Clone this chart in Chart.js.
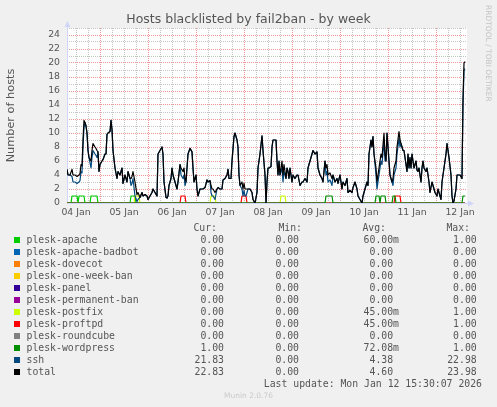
<!DOCTYPE html>
<html>
<head>
<meta charset="utf-8">
<script src="https://cdn.jsdelivr.net/npm/chart.js@4.4.1/dist/chart.umd.min.js"></script>
<style>
html, body { margin: 0; padding: 0; width: 497px; height: 407px; background: #f0f0f0; overflow: hidden; }
body { position: relative; font-family: 'DejaVu Sans', sans-serif; }
#graph { position: absolute; left: 0; top: 0; }
.lg { position: absolute; font: 9.8px 'DejaVu Sans Mono', monospace; line-height: 12px; color: #555; white-space: pre; }
.sw { position: absolute; width: 6px; height: 6px; }
#rrd { position: absolute; left: 484px; top: 5px; writing-mode: vertical-rl; font: 7.5px 'DejaVu Sans', sans-serif; line-height: 9px; color: #c4c4c4; white-space: pre; }
#munin { position: absolute; left: 0; width: 497px; top: 391px; text-align: center; font: 7.5px 'DejaVu Sans', sans-serif; line-height: 10px; color: #cacaca; }
</style>
</head>
<body>
<canvas id="graph" width="497" height="225"></canvas>
<div id="rrd">RRDTOOL / TOBI OETIKER</div>
<div id="legend"></div>
<div id="munin">Munin 2.0.76</div>
<script>
// time axis in hours since 04 Jan 00:00
const startHour = 7.5;
const endHour = 207.5;
const dayLabels = ['04 Jan', '05 Jan', '06 Jan', '07 Jan', '08 Jan', '09 Jan', '10 Jan', '11 Jan', '12 Jan'];

const sampleHours = [
    7.5, 8, 9, 10, 10.5, 11.5, 12.5, 13.5, 14, 14.5, 15, 15.5, 16, 16.5, 17, 17.5, 18, 18.5, 19.5, 20, 20.5, 21.5, 22, 22.5, 23, 23.5,
    24, 25, 25.5, 26.5, 27, 27.5, 28, 29, 29.5, 30, 30.5, 31.5, 32.5, 33, 34, 35, 35.5, 36.5, 37.5, 38, 39, 39.5, 40, 40.5, 41.5, 42.5, 43, 44, 45, 45.5, 46.5, 47.5,
    48, 49, 50, 50.5, 51.5, 52.5, 53, 54, 55, 55.5, 56, 57, 57.5, 58, 58.5, 59.5, 60, 60.5, 61.5, 62.5, 63, 64, 64.5, 65.5, 66, 66.5, 67, 68, 69, 70, 70.5, 71,
    72, 72.5, 73, 74, 75, 75.5, 76.5, 77.5, 78, 79, 79.5, 80, 80.5, 81.5, 82.5, 83, 84, 85, 85.5, 86.5, 87.5, 88, 88.5, 89.5, 90, 91, 91.5, 92.5, 93, 93.5, 94, 95, 95.5,
    96, 96.5, 97, 98, 99, 100, 100.5, 101.5, 102.5, 103, 104, 105, 105.5, 106.5, 107, 107.5, 108, 108.5, 109.5, 110, 110.5, 112, 112.5, 113, 113.5, 114, 115, 115.5, 116, 117, 117.5, 118, 118.5, 119,
    120, 120.5, 121.5, 122.5, 123, 124, 125, 125.5, 126.5, 127.5, 128, 129, 130, 130.5, 131.5, 132.5, 133, 134, 135, 135.5, 136.5, 137, 137.5, 138, 139, 140, 140.5, 141.5, 142.5, 143,
    144, 145, 145.5, 146.5, 147.5, 148, 149, 150, 150.5, 151.5, 152.5, 153, 154, 155, 155.5, 156.5, 157.5, 158, 158.5, 159.5, 160, 160.5, 161, 162, 162.5, 163, 163.5, 164.5, 165, 166, 166.5, 167, 167.5,
    168, 168.5, 169, 170, 170.5, 171, 172, 172.5, 173.5, 174, 174.5, 175, 175.5, 176, 177, 177.5, 178, 178.5, 179, 179.5, 180, 180.5, 181, 182, 182.5, 183, 183.5, 184.5, 185, 185.5, 186, 187, 187.5, 188.5, 189, 190, 190.5, 191.5,
    192.5, 193, 194, 194.5, 195, 196, 197, 197.5, 198.5, 199.5, 200, 200.5, 201, 202, 202.5, 203.5, 204, 205, 205.5, 206, 206.5
];

const totalHosts = [
    4.8, 4, 4, 4.8, 4, 4, 3.8, 4, 4.2, 5.5, 5.3, 9, 11.8, 11.5, 11, 10, 7.5, 6.5, 6, 7.5, 8.5, 8, 7.8, 7.5, 7.3, 4.5,
    5.5, 6, 6.2, 7, 7, 9.8, 10, 10.2, 11.8, 10.5, 7.5, 5, 3.5, 4.5, 4, 5, 2.8, 4, 3, 4.5, 3.5, 3.5, 3.8, 4.5, 3, 1.2, 1.5, 0.8, 1.5, 1, 1.2, 1,
    0.5, 1, 1.5, 2, 1.5, 1, 7, 7.5, 8, 7, 3, 0.8, 0.7, 1, 2.5, 3.5, 5, 4, 3, 2, 3, 5.5, 5, 4.5, 5, 3.5, 3, 7, 7.8, 7.3, 5, 3,
    4, 2, 1, 2, 2, 2, 2.2, 3.3, 3, 3.2, 2.5, 2, 2, 1.5, 2, 2.2, 2, 2, 3.3, 3.5, 4, 4.8, 3.5, 3.5, 6, 9.5, 10, 9, 8, 4, 2.5, 3, 2,
    2.8, 2, 2, 2, 2, 1.5, 0.5, 0, 1.5, 5, 7, 9.6, 7.5, 4, 0, 3, 5, 5, 5.2, 8, 9, 9, 6, 4, 6, 4, 6, 4, 5.5, 3.5, 5, 4.5, 3.5, 5,
    3, 4, 3.5, 4, 4, 2.5, 3, 3, 3.5, 3, 5, 6, 7, 7.5, 7, 7.3, 5, 4, 3.5, 3, 6, 5, 5.5, 4, 4.3, 3.5, 4, 3, 3.5, 2.8,
    4, 2, 3, 2.5, 3.5, 1.5, 1.8, 1.5, 2.2, 3, 2, 1, 0.5, 0, 1, 2, 3, 2.5, 7, 9, 8, 9.5, 7, 5, 3, 4, 5, 7, 6.5, 10, 7, 6, 10,
    8, 6, 4, 3, 3.5, 5, 6, 8, 10.2, 9, 8.5, 8, 7.5, 7.5, 5.5, 4.5, 7, 5, 6.5, 5, 7, 6, 5, 6, 4.7, 4.5, 5, 3, 5, 6, 5, 4.5, 5, 3, 1.5, 3, 2.5, 1.5,
    1, 2, 1, 0.5, 3, 5, 7, 8.5, 6.5, 4, 1, 0, 0.3, 2, 4, 4, 4, 3.5, 15, 20, 20.2
];

const sshHosts = [
    4.8, 4, 4, 3.8, 3, 3, 2.8, 3, 3.2, 4.5, 4.3, 8, 10.8, 11.5, 11, 10, 7.5, 6.5, 5, 6.5, 7.5, 7, 6.8, 6.5, 7.3, 4.5,
    5.5, 6, 6.2, 7, 7, 9.8, 10, 10.2, 11.8, 10.5, 7.5, 5, 3.5, 4.5, 4, 5, 2.8, 4, 3, 4.5, 3.5, 2.5, 2.8, 3.5, 1, 0.2, 0.5, 0.8, 1.5, 1, 1.2, 1,
    0.5, 1, 1.5, 2, 1.5, 1, 7, 7.5, 8, 7, 3, 0.8, 0.7, 1, 2.5, 3.5, 5, 4, 3, 2, 3, 5.5, 4, 3.5, 4, 2.5, 3, 7, 7.8, 7.3, 5, 3,
    4, 2, 1, 2, 2, 2, 2.2, 3.3, 3, 3.2, 1.5, 1, 1, 0.5, 2, 2.2, 2, 2, 3.3, 3.5, 4, 4.8, 3.5, 3.5, 6, 9.5, 10, 9, 8, 4, 2.5, 2, 1,
    1.8, 1, 1, 2, 2, 1.5, 0.5, 0, 1.5, 5, 7, 9.6, 7.5, 4, 0, 3, 5, 5, 5.2, 8, 9, 9, 6, 4, 6, 4, 5, 3, 4.5, 3.5, 5, 4.5, 3.5, 5,
    3, 4, 3.5, 4, 4, 2.5, 3, 3, 3.5, 3, 5, 6, 7, 7.5, 7, 7.3, 5, 4, 3.5, 3, 6, 4, 4.5, 3, 3.3, 2.5, 4, 3, 3.5, 2.8,
    4, 2, 3, 2.5, 3.5, 1.5, 1.8, 1.5, 2.2, 3, 2, 1, 0.5, 0, 1, 2, 3, 2.5, 7, 9, 8, 9.5, 7, 4, 2, 3, 4, 6, 5.5, 9, 6, 6, 10,
    8, 6, 4, 3, 2.5, 4, 5, 7, 9.2, 8, 8.5, 8, 7.5, 7.5, 5.5, 4.5, 7, 5, 6.5, 5, 7, 6, 5, 6, 4.7, 4.5, 5, 3, 5, 6, 5, 4.5, 5, 3, 1.5, 3, 2.5, 1.5,
    1, 2, 1, 0.5, 3, 5, 7, 8.5, 6.5, 4, 1, 0, 0.3, 2, 4, 4, 4, 3.5, 14, 19, 19.2
];

// periods (in hours) where a jail held one banned host
const apacheBans = [[10, 12.5], [13.5, 16], [19.5, 22.5], [39.5, 41.5]];
const postfixBans = [[41.5, 43.5], [79.5, 81.5], [114.5, 116.5]];
const proftpdBans = [[64.5, 66.5], [95, 97], [171.5, 174]];
const wordpressBans = [[137, 140], [162, 163.5], [164.5, 166.5], [170.5, 171.5], [205.5, 206.5]];

const seriesNames = ['plesk-apache', 'plesk-apache-badbot', 'plesk-dovecot', 'plesk-one-week-ban', 'plesk-panel',
    'plesk-permanent-ban', 'plesk-postfix', 'plesk-proftpd', 'plesk-roundcube', 'plesk-wordpress', 'ssh', 'total'];
const curValues = ['0.00', '0.00', '0.00', '0.00', '0.00', '0.00', '0.00', '0.00', '0.00', '1.00', '21.83', '22.83'];
const minValues = ['0.00', '0.00', '0.00', '0.00', '0.00', '0.00', '0.00', '0.00', '0.00', '0.00', '0.00', '0.00'];
const avgValues = ['60.00m', '0.00', '0.00', '0.00', '0.00', '0.00', '45.00m', '45.00m', '0.00', '72.08m', '4.38', '4.60'];
const maxValues = ['1.00', '0.00', '0.00', '0.00', '0.00', '0.00', '1.00', '1.00', '0.00', '1.00', '22.98', '23.98'];

const seriesColors = ['#00CC00', '#0066B3', '#FF8000', '#FFCC00', '#330099', '#990099', '#CCFF00', '#FF0000', '#808080', '#008F00', '#00487D', '#000000'];
const minorGrid = 'rgba(190,190,190,0.9)';
const majorGrid = 'rgba(235,140,140,0.9)';
const axisColor = '#CFD6F8';

const lastHour = sampleHours[sampleHours.length - 1];

function banSeries(periods) {
    const pts = [{ x: sampleHours[0], y: 0 }];
    periods.forEach(([on, off]) => {
        pts.push({ x: on - 0.5, y: 0 }, { x: on, y: 1 }, { x: off, y: 1 });
        if (off + 0.5 <= lastHour) pts.push({ x: off + 0.5, y: 0 });
    });
    const last = pts[pts.length - 1];
    if (last.y === 0 && last.x < lastHour) pts.push({ x: lastHour, y: 0 });
    return pts;
}

const jailData = [
    banSeries(apacheBans), banSeries([]), banSeries([]), banSeries([]), banSeries([]),
    banSeries([]), banSeries(postfixBans), banSeries(proftpdBans), banSeries([]), banSeries(wordpressBans),
    sampleHours.map((h, i) => ({ x: h, y: sshHosts[i] })),
    sampleHours.map((h, i) => ({ x: h, y: totalHosts[i] })),
];

const datasets = seriesNames.map((name, i) => ({
    label: name,
    data: jailData[i],
    borderColor: seriesColors[i],
    backgroundColor: seriesColors[i],
    borderWidth: 1.2,
    pointRadius: 0,
    tension: 0,
    fill: false,
    borderJoinStyle: 'round',
    order: seriesNames.length - i,
}));

const muninLook = {
    id: 'muninLook',
    beforeDraw(chart) {
        const { ctx, chartArea: a } = chart;
        ctx.save();
        ctx.fillStyle = '#ffffff';
        ctx.fillRect(a.left, a.top, a.right - a.left, a.bottom - a.top);
        ctx.restore();
    },
    beforeDatasetsDraw(chart) {
        const { ctx, chartArea: a } = chart;
        ctx.save();
        ctx.strokeStyle = axisColor;
        ctx.lineWidth = 1;
        ctx.beginPath();
        ctx.moveTo(a.left + 0.5, a.top - 2);
        ctx.lineTo(a.left + 0.5, a.bottom + 0.5);
        ctx.lineTo(a.right + 2, a.bottom + 0.5);
        ctx.stroke();
        ctx.fillStyle = axisColor;
        ctx.beginPath();
        ctx.moveTo(a.left - 2.5, a.top - 1);
        ctx.lineTo(a.left + 3.5, a.top - 1);
        ctx.lineTo(a.left + 0.5, a.top - 7);
        ctx.closePath();
        ctx.fill();
        ctx.beginPath();
        ctx.moveTo(a.right + 1, a.bottom - 2.5);
        ctx.lineTo(a.right + 1, a.bottom + 3.5);
        ctx.lineTo(a.right + 7, a.bottom + 0.5);
        ctx.closePath();
        ctx.fill();
        ctx.restore();
    },
};

Chart.defaults.font.family = "'DejaVu Sans', sans-serif";
Chart.defaults.color = '#555';

const configGrafico = {
    type: 'line',
    data: { datasets: datasets },
    options: {
        responsive: false,
        animation: false,
        layout: { padding: 0, autoPadding: false },
        plugins: {
            legend: { display: false },
            tooltip: { enabled: false },
            title: {
                display: true,
                text: 'Hosts blacklisted by fail2ban - by week',
                color: '#555',
                font: { size: 12.5, weight: 'normal' },
                padding: { top: 12, bottom: 1 },
            },
        },
        scales: {
            x: {
                type: 'linear',
                min: startHour,
                max: endHour,
                afterFit: (s) => { s.height = 22; },
                afterBuildTicks: (s) => {
                    const t = [];
                    for (let h = Math.ceil(s.min / 6) * 6; h <= s.max; h += 6) t.push({ value: h });
                    s.ticks = t;
                },
                ticks: {
                    autoSkip: false,
                    maxRotation: 0,
                    padding: 4,
                    font: { size: 9.3 },
                    callback: (v) => (v % 24 === 12 ? dayLabels[(v - 12) / 24] : ''),
                },
                grid: {
                    drawTicks: false,
                    color: (c) => (c.tick && c.tick.value % 24 === 0 ? majorGrid : minorGrid),
                },
                border: { display: false, dash: [1, 1] },
            },
            y: {
                min: 0,
                max: 25,
                afterFit: (s) => { s.width = 67; },
                ticks: {
                    stepSize: 1,
                    autoSkip: false,
                    padding: 7,
                    font: { size: 9.3 },
                    callback: (v) => (v % 2 === 0 ? String(v) : ''),
                },
                grid: {
                    drawTicks: false,
                    color: (c) => (c.tick && c.tick.value % 2 === 0 ? majorGrid : minorGrid),
                },
                border: { display: false, dash: [1, 1] },
                title: {
                    display: true,
                    text: 'Number of hosts',
                    color: '#555',
                    font: { size: 11.3 },
                    padding: { top: 4, bottom: 4 },
                },
            },
            spare: {
                position: 'right',
                afterFit: (s) => { s.width = 30; },
                grid: { display: false },
                ticks: { display: false },
                border: { display: false },
            },
        },
    },
    plugins: [muninLook],
};

const grafico = new Chart(document.getElementById('graph'), configGrafico);

// legend table
const legendBox = document.getElementById('legend');
function addText(text, left, right, top) {
    const el = document.createElement('div');
    el.className = 'lg';
    el.textContent = text;
    if (left !== null) el.style.left = left + 'px';
    if (right !== null) { el.style.right = right + 'px'; el.style.textAlign = 'right'; }
    el.style.top = top + 'px';
    legendBox.appendChild(el);
}

const headerTop = 222.3;
const rowTop = 234.1;
const rowStep = 12;
addText('Cur:', null, 280, headerTop);
addText('Min:', null, 195, headerTop);
addText('Avg:', null, 111, headerTop);
addText('Max:', null, 27, headerTop);

seriesNames.forEach((name, i) => {
    const top = rowTop + i * rowStep;
    const sw = document.createElement('div');
    sw.className = 'sw';
    sw.style.left = '14px';
    sw.style.top = (top + 3.2) + 'px';
    sw.style.background = seriesColors[i];
    legendBox.appendChild(sw);
    addText(name, 26.5, null, top);
    addText(curValues[i], null, 273, top);
    addText(minValues[i], null, 198, top);
    const avg = /[0-9]$/.test(avgValues[i]) ? avgValues[i] + ' ' : avgValues[i];
    addText(avg, null, 98, top);
    addText(maxValues[i], null, 20.3, top);
});

addText('Last update: Mon Jan 12 15:30:07 2026', null, 15, 377.9);
</script>
</body>
</html>
